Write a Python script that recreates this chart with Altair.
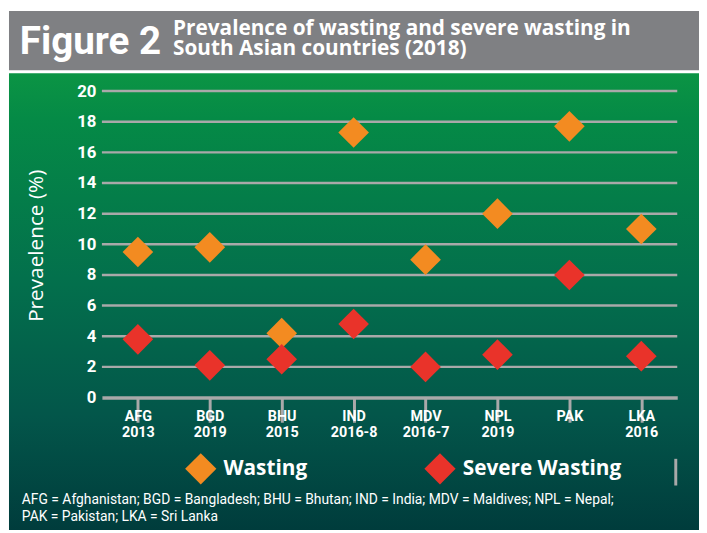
import altair as alt
import pandas as pd

# ---- data ----
codes = ["AFG", "BGD", "BHU", "IND", "MDV", "NPL", "PAK", "LKA"]
years = ["2013", "2019", "2015", "2016-8", "2016-7", "2019", "", "2016"]
wasting = [9.5, 9.8, 4.2, 17.3, 9.0, 12.0, 17.7, 11.0]
severe = [3.8, 2.1, 2.5, 4.8, 2.0, 2.8, 8.0, 2.7]
series = ["Wasting", "Severe Wasting"]
colors = ["#f38b21", "#e9332a"]
y_ticks = list(range(0, 21, 2))
fig_label = ["Figure 2"]
title_lines = ["Prevalence of wasting and severe wasting in", "South Asian countries (2018)"]
y_title = "Prevaelence (%)"
footnote_lines = [
    "AFG = Afghanistan; BGD = Bangladesh; BHU = Bhutan; IND = India; MDV = Maldives; NPL = Nepal;",
    "PAK = Pakistan; LKA = Sri Lanka",
]

labels = [c + ("\n" + y if y else "") for c, y in zip(codes, years)]
rows = []
for lab, w, s in zip(labels, wasting, severe):
    rows.append({"country": lab, "series": series[0], "value": w})
    rows.append({"country": lab, "series": series[1], "value": s})
df = pd.DataFrame(rows)

NARROW = "Roboto, Liberation Sans, sans-serif"
SANS = "Open Sans, Noto Sans, sans-serif"
GRID = "#a9a9a9"
W, H = 582, 310
one = pd.DataFrame({"k": [0]})

ysc = alt.Scale(domain=[0, 20], nice=False)
yaxis = alt.Axis(
    values=y_ticks,
    title=y_title,
    grid=False,
    domain=False,
    ticks=False,
    labelColor="white",
    labelFont=NARROW,
    labelFontWeight="bold",
    labelFontSize=17,
    labelPadding=6,
    titleColor="white",
    titleFont=SANS,
    titleFontSize=21,
    titleFontWeight="normal",
    titleX=-66,
    titleY=156,
    titleAlign="center",
    titleBaseline="middle",
    zindex=1,
)

gradient = alt.LinearGradient(
    gradient="linear",
    stops=[
        alt.GradientStop(color="#0b9444", offset=0),
        alt.GradientStop(color="#058a46", offset=0.1),
        alt.GradientStop(color="#03704c", offset=0.45),
        alt.GradientStop(color="#03564a", offset=0.75),
        alt.GradientStop(color="#003c3c", offset=1),
    ],
    x1=0, x2=0, y1=0, y2=1,
)

bg = alt.Chart(one).mark_rect(color=gradient).encode(
    x=alt.value(-94), x2=alt.value(W + 22), y=alt.value(-18), y2=alt.value(H + 134)
)
band = alt.Chart(one).mark_rect(color="#7f8083").encode(
    x=alt.value(-94), x2=alt.value(W + 22), y=alt.value(-81), y2=alt.value(-21)
)

grid = alt.Chart(pd.DataFrame({"value": y_ticks[1:]})).mark_rule(
    color=GRID, strokeWidth=2.5
).encode(y=alt.Y("value:Q", scale=ysc, axis=yaxis))

points = alt.Chart(df).mark_point(
    shape="diamond", filled=True, size=961, opacity=1, strokeWidth=0
).encode(
    x=alt.X(
        "country:N",
        sort=labels,
        scale=alt.Scale(paddingInner=0, paddingOuter=0),
        axis=alt.Axis(
            title=None,
            labelExpr="split(datum.value, '\\n')",
            labelAngle=0,
            bandPosition=0,
            domainColor=GRID,
            domainWidth=3.5,
            tickColor=GRID,
            tickWidth=3,
            tickSize=25,
            labelColor="white",
            labelFont=NARROW,
            labelFontWeight="bold",
            labelFontSize=14.5,
            labelLineHeight=16,
            labelPadding=-13,
            labelBaseline="top",
            grid=False,
            zindex=1,
        ),
    ),
    y=alt.Y("value:Q", scale=ysc, axis=yaxis),
    color=alt.Color(
        "series:N",
        sort=series,
        scale=alt.Scale(domain=series, range=colors),
        legend=alt.Legend(
            title=None,
            orient="none",
            legendX=84,
            legendY=366,
            direction="horizontal",
            symbolType="diamond",
            symbolSize=1000,
            symbolStrokeWidth=0,
            symbolOpacity=1,
            labelColor="white",
            labelFont=SANS,
            labelFontSize=21,
            labelFontWeight="bold",
            labelOffset=7,
            labelLimit=400,
            columnPadding=118,
            padding=0,
        ),
    ),
)

fig = alt.Chart(pd.DataFrame({"t": fig_label})).mark_text(
    font=NARROW, fontSize=39, fontWeight="bold", color="white", align="left", baseline="alphabetic"
).encode(text="t:N", x=alt.value(-83), y=alt.value(-38))

title = alt.Chart(one).mark_text(
    font=SANS, fontSize=21, fontWeight="bold", color="white", align="left",
    baseline="alphabetic", lineHeight=21
).encode(text=alt.value(title_lines), x=alt.value(72), y=alt.value(-57))

vline = alt.Chart(one).mark_rule(color=GRID, strokeWidth=3).encode(
    x=alt.value(580.5), y=alt.value(372), y2=alt.value(399)
)

foot = alt.Chart(one).mark_text(
    font=NARROW, fontSize=14, color="white", align="left", baseline="alphabetic", lineHeight=16.5
).encode(text=alt.value(footnote_lines), x=alt.value(-81), y=alt.value(418))

chart = alt.layer(bg, band, grid, points, fig, title, vline, foot).properties(
    width=W,
    height=H,
    padding={"left": 95, "top": 81, "right": 22, "bottom": 134},
    autosize=alt.AutoSizeParams(type="none"),
    background="white",
).configure_view(stroke=None)

chart.save("out.html", embed_options={"renderer": "svg", "actions": False})
